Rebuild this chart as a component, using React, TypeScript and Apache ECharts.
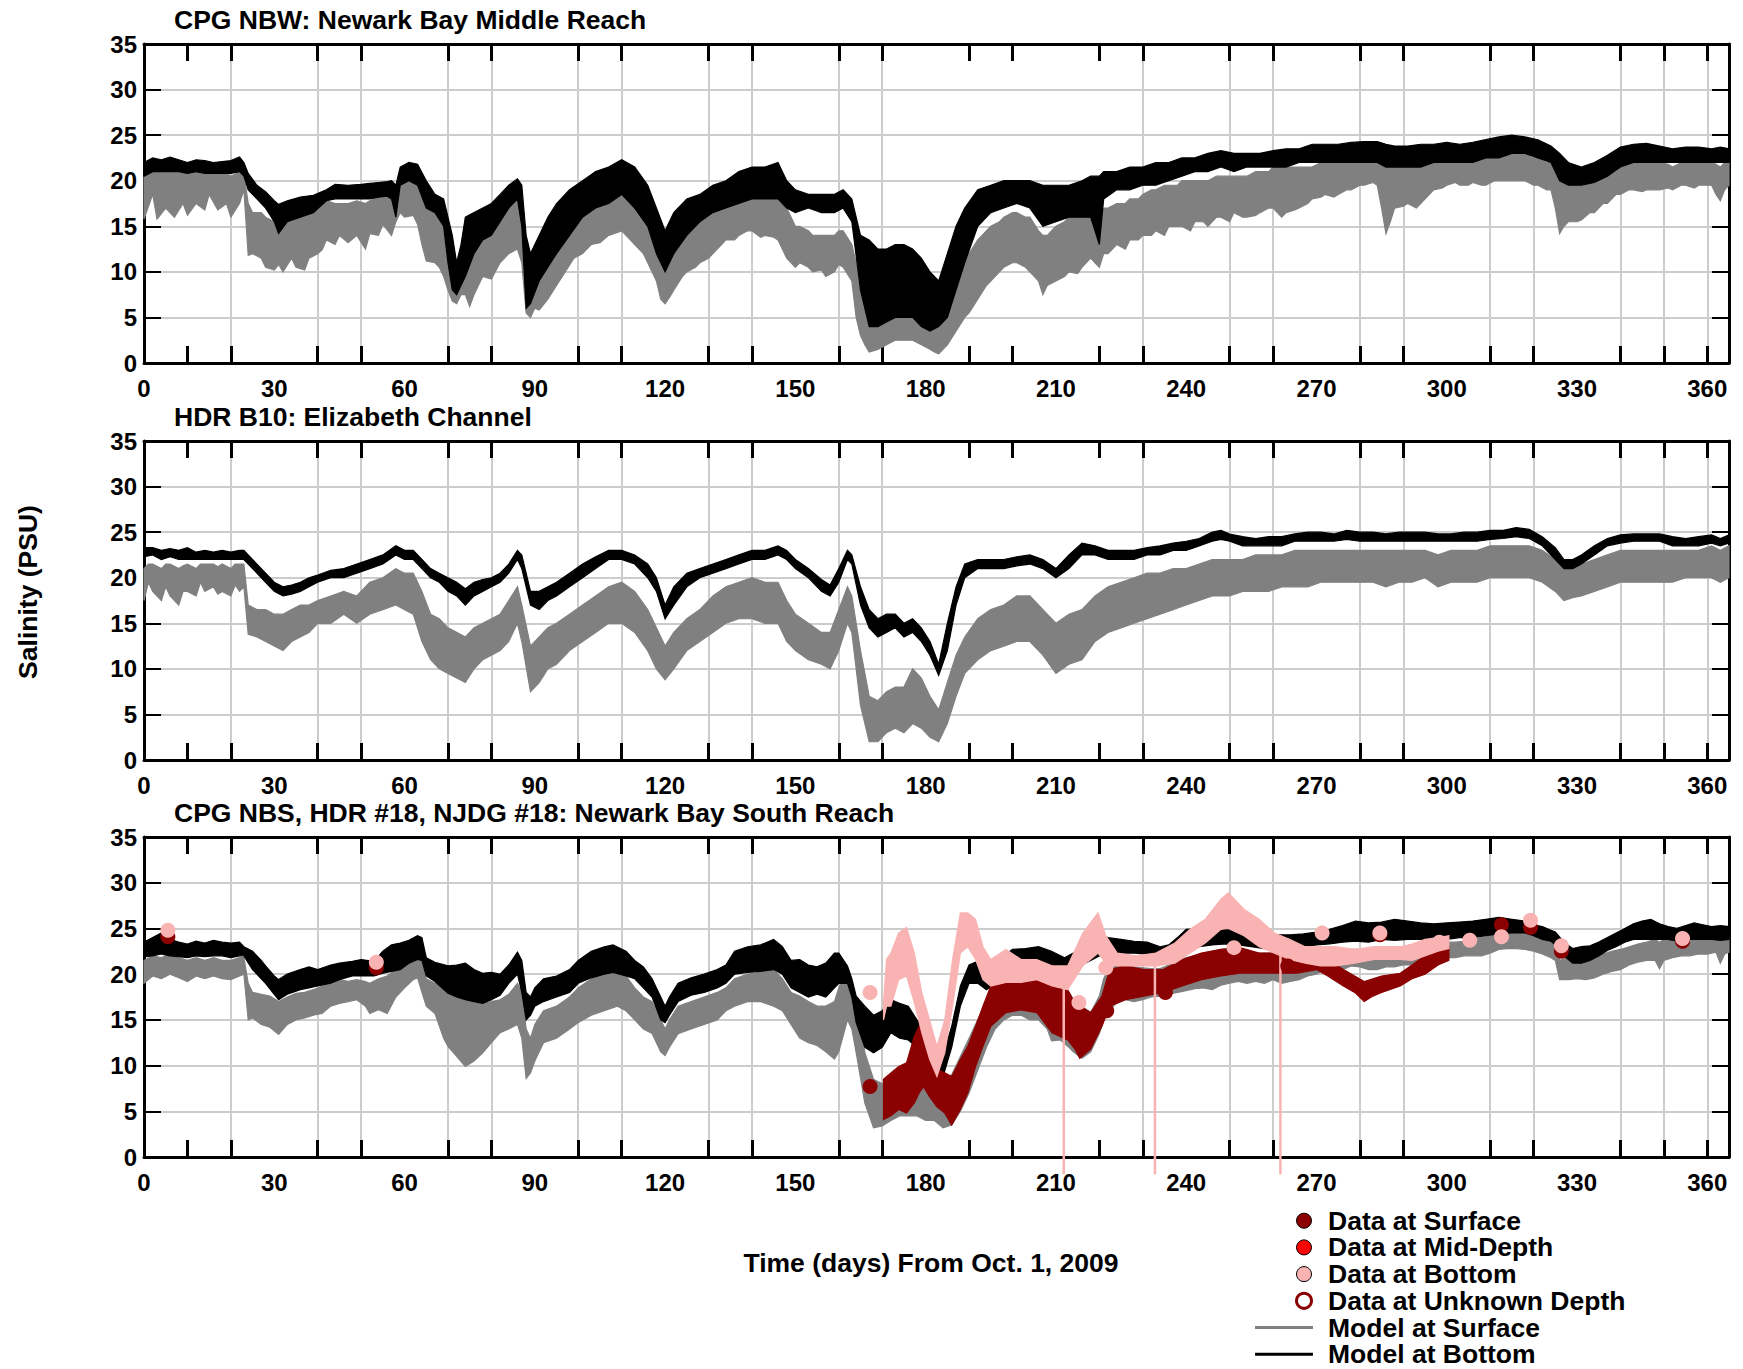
import React, { useEffect, useRef } from 'react';
import * as echarts from 'echarts';

const FONT = "'Liberation Sans', Arial, Helvetica, sans-serif";
const W = 1743;
const H = 1369;

const GRAY = '#808080';
const BLACK = '#000000';
const DARKRED = '#8b0000';
const RED = '#ff0000';
const PINK = '#f9b3b3';
const GRID_GRAY = '#cccccc';
const CLEAR = 'rgba(0,0,0,0)';

// tick positions / labels
const xTickDays = [10, 20, 40, 50, 70, 80, 100, 110, 130, 140, 160, 170, 190, 200, 220, 230, 250, 260, 280, 290, 310, 320, 340, 350, 360];
const yTickValues = [0, 5, 10, 15, 20, 25, 30, 35];

const panelTitles = [
  'CPG NBW: Newark Bay Middle Reach',
  'HDR B10: Elizabeth Channel',
  'CPG NBS, HDR #18, NJDG #18: Newark Bay South Reach',
];

// ---------- Panel 1: CPG NBW  [day, low, high] ----------
const nbwSurface = [
  [0,15.8,20.5],[2,18.5,21.5],[3,15.8,21],[5,17,21.5],[7,16,21.5],[9,17.5,21],[10,16.2,20.8],[12,17.5,21],[14,16.8,21],[15,18.5,21.2],[17,16.8,20.8],[19,17.5,20.8],[20,16,20.5],[22,17.5,21],[23,19,20.8],
  [24,11.8,17.5],[25,12,16.5],[27,11.5,16.5],[28,10.5,16],[30,10.2,15.5],[31,10.8,15],[32,10,15.5],[34,11.5,16],[35,10.5,16],[37,10.2,16.5],[38,11.5,16.5],[40,12,16.8],[41,12.4,17.5],[42,13.5,17.8],
  [44,13,17.5],[45,14,17.5],[47,13.2,17.5],[49,14,17.8],[51,12.5,17.5],[52,14.2,17.8],[54,14,18.2],[55,15.2,18.5],[57,14,18.5],[58,15.5,17.5],[59,16.5,20.2],[60,16,20.5],[62,16.2,20.5],[63,15.2,20],
  [64,13,19],[65,11.2,17.5],[67,11,16.5],[68,10.5,16],[69,9.5,15],[70,8,13.5],[71,6.8,12],[72,6.5,10.5],[73,7.5,12.5],[74,7.5,14],[75,6.2,14.5],[76,7.5,15],[77,8.5,15.5],[78,9.5,16],[80,9.2,16.5],
  [82,11,17],[84,12,17.5],[86,12.5,18],[87,11,16.5],[88,5.5,12],[89,5,10],[90,6,11.5],[91,5.8,12],[93,7,13],[95,8.5,15],[97,10,16],[99,11.5,17],[101,12,18],[103,13,18.5],[105,13.2,19],[107,14,19.5],
  [110,14.5,20],[112,13.5,19.5],[113,13,19],[115,12,18],[116,11,17.5],[118,9,15],[119,7,13],[120,6.5,12],[121,7.2,13],[122,8,14],[124,9.5,15],[125,10,15.5],[127,10.5,16],[128,11,16.5],[130,11.5,16.8],
  [131,12,17],[133,13,17.5],[134,13.5,18],[136,13.5,18.5],[137,14,19],[139,14.5,19.5],[140,14.5,19.5],[142,13.8,19.5],[143,14,19.5],[145,13.8,20],[146,13.5,19.5],[147,12.5,18],[148,11.5,17],[150,10.5,15],
  [151,11,15],[153,10.5,14.5],[154,10,14],[156,10.2,14],[157,9.5,14],[159,10,14],[160,10.8,14.5],[161,10.5,14.5],[163,9,13],[164,5,11],[165,3,9],[166,2,7],[167,1.2,6],[169,1.5,5.5],[171,2,6.5],
  [173,2.5,7],[175,2.5,7.5],[177,2.5,7.5],[179,2,7],[181,1.5,5],[182,1.2,4.5],[183,1,4.5],[184,1.5,5],[185,2,6],[187,3.5,8.5],[189,5,11],[190,5.5,12],[192,7,13.5],[194,8.5,14.5],[195,9,15],
  [197,10,15.5],[198,10.5,16],[200,11,16.5],[201,11,16.5],[203,10.5,16],[204,10,16],[206,9,14.5],[207,7.5,14],[208,8.5,14],[210,9,15],[212,9.5,15.5],[213,10,16],[215,9.8,16],[216,10.5,16.5],
  [218,11.5,17],[219,11,16.5],[220,10.5,16.5],[221,12,17],[222,12,17],[224,13,17.5],[226,12.5,17.5],[227,13.5,18],[229,13.5,18],[230,14,18.5],[232,14,19],[233,14.5,19],[235,14,19.5],[236,15,19.5],
  [238,15,19.5],[239,15,20],[241,14.5,20],[242,15.5,20],[244,15.5,20],[245,15,20],[247,16,20.5],[248,16,20.5],[250,15.5,20.5],[251,16.5,20.5],[253,16,20.5],[254,16,20.5],[256,16.2,21],[257,16.5,21],
  [259,17,21],[260,17,21.5],[262,16,21.5],[263,16.5,21.5],[265,16.8,21.5],[266,17,21.5],[268,17.5,21.5],[269,18,21.5],[271,18.2,22],[272,18.5,22],[274,18.2,22],[275,18.5,22],[277,19,22],[278,19,22],
  [280,19.5,22.5],[281,19.5,22.5],[283,19.8,22.5],[284,19.5,22.5],[285,17,22],[286,14.2,21.5],[287,15.5,21.5],[288,17,21.5],[290,17.2,21.5],[291,17.5,21.5],[293,17,21.5],[294,17.5,22],[296,18.5,22],
  [297,19,22],[299,19.2,22.5],[300,19.5,22.5],[302,19.8,22.5],[303,19.5,22.5],[305,19.5,22.5],[306,19.8,22.5],[308,19.5,22.5],[309,19.5,22.5],[311,20,23],[312,20,23],[314,20,23],[315,20,23],[317,20,23],
  [318,20,23],[320,19.5,22.5],[321,19.5,22.5],[323,19,22],[324,19,22],[325,17,21],[326,14.2,20.5],[327,15,20],[328,15.5,19.5],[330,15.5,19.5],[331,15.7,19.5],[333,16.5,20],[334,16.5,20],[336,17.5,20.5],
  [337,17.5,20.5],[339,18.5,21],[340,18.5,21.5],[342,19,22],[343,19,22],[345,18.8,22],[346,19,22],[348,19,22],[349,19,22],[351,19.2,21.8],[352,19,21.5],[354,19.5,22],[355,19.5,22],[357,19.2,22],
  [358,19.5,22],[360,19.5,22],[361,19.5,22],[362,18.5,21.8],[363,17.8,21.5],[364,19,22],[365,19.5,22],
];

const nbwBottom = [
  [0,20.5,22],[2,21,22.5],[4,21,22.3],[6,21,22.6],[8,21,22.3],[10,20.8,22],[12,21,22.3],[14,20.8,22.2],[16,20.8,22],[18,20.8,22.1],[20,20.8,22.2],[22,21,22.6],[23,20.5,22],[24,19,20.8],[26,18,19.5],
  [28,17,18.8],[30,15.5,17.8],[31,14.2,17.4],[33,15.5,17.8],[36,16,18.2],[39,16.5,18.4],[42,17.8,19],[44,18,19.6],[47,18,19.5],[50,18,19.6],[52,18,19.7],[54,18.2,19.8],[56,18.3,19.9],[57,18,20],
  [58,16,19.5],[59,19.5,21.5],[61,20,22],[63,19.5,21.8],[65,17,20],[67,16.5,18.5],[69,15,18],[70,11,16],[71,8,14],[72,7.5,11],[73,8.5,13],[74,9.5,16],[76,12,16.5],[78,13.5,17],[80,14,17.5],
  [82,15.5,18.5],[84,17,19.5],[86,18,20.2],[87,15,19.5],[88,6,14],[89,6.5,12],[91,9,14],[93,10.5,16],[95,12,17.5],[98,14,19],[101,16,20],[104,17,21],[107,17.5,21.5],[110,18.5,22.3],[113,17,21.5],
  [116,15,19.5],[118,12,17],[120,10,14.5],[122,12,16.5],[125,14,18],[128,15.5,18.5],[131,16.5,19.5],[134,17,20],[137,17.5,21],[140,18,21.5],[143,18,21.5],[146,18,22],[148,17,20],[150,16.5,19],
  [153,17,18.5],[156,16.5,18.5],[159,16.5,18.5],[161,17,19],[163,15.5,18],[165,8,14],[167,4,13.5],[169,4,12.5],[171,4.5,12.5],[173,5,13],[175,5,13],[177,5,12.5],[179,4,11.5],[181,3.5,10],
  [183,4,9],[185,5,12],[187,8,15],[189,11,17],[192,15,19],[195,16.5,19.5],[198,17,20],[201,17.5,20],[204,17,20],[207,15,19.5],[210,15.5,19.5],[213,16,19.5],[216,16,20],[218,16,20.5],[220,13,20.5],
  [221,18,21],[224,19,21],[227,19,21.5],[230,19.5,21.5],[233,19.5,22],[236,20,22],[239,20.5,22.5],[242,21,22.5],[245,21,23],[248,21.5,23.3],[251,21,23],[254,21.5,23],[257,21.5,23],[260,21.5,23.3],
  [263,21.5,23.5],[266,22,23.5],[269,22,24],[272,22,24],[275,22,24],[278,22,24.2],[281,22,24.3],[284,22,24.3],[286,21.5,24],[288,21.5,23.8],[291,21.5,23.8],[294,21.5,24],[297,22,24],[300,22,24.2],
  [303,22,24],[306,22,24.2],[309,22.5,24.5],[312,22.5,24.8],[315,23,25],[318,23,24.8],[321,22.5,24.5],[324,22,23.8],[326,20,23],[328,19.5,22],[331,19.5,21.5],[334,19.8,22],[337,20.5,22.8],
  [340,21.5,23.7],[343,22,24],[346,22,24.1],[349,22,23.8],[352,22,23.5],[355,22,23.7],[358,22,23.7],[361,22,23.5],[363,22,23.7],[365,22,23.5],
];

// ---------- Panel 2: HDR B10 ----------
const hdrSurface = [
  [0,17.5,21],[1,19.5,21.5],[2,18.5,21.5],[4,17.5,21],[5,19,21.5],[6,18,21.5],[8,17,21],[9,18.5,21.3],[10,18.5,21.5],[12,18,21],[13,19.5,21.5],[14,18.5,21.5],[16,19,21.5],[17,18.2,21.2],[18,18.5,21.5],
  [20,18,21],[21,19.2,21.5],[22,18.5,21.5],[23,19,21.5],[24,13.8,17],[26,13.5,16.5],[28,13,16.5],[30,12.5,16],[32,12,16],[34,13,16.5],[36,13.5,17],[38,14,17],[40,15,17.5],[43,15,18],[46,16,18.5],
  [49,15,18],[52,16,19.5],[55,16.5,20],[58,17,21],[60,16.5,20.5],[62,16,20.5],[64,13,18.5],[66,11,16],[68,10,15.5],[70,9.5,14.5],[72,9,14],[74,8.5,13.5],[76,10,14.5],[78,11,15],[80,11.5,15.5],
  [82,12,16],[84,13,17.5],[86,15,19],[87,13,17],[89,7.5,12.5],[91,8.5,13.5],[93,10,14.5],[95,10.5,15],[98,12,16],[101,13,17],[104,14,18],[107,15,19],[110,15,19.5],[113,14,18.5],[116,12,16.5],
  [118,10,14.5],[120,8.8,12.5],[122,10,14],[125,12,15.5],[128,13,16.5],[131,14,18],[134,15,19],[137,15.5,19.5],[140,15.5,20],[143,15,19.5],[146,15,19.5],[148,13,17.5],[150,12,16],[153,11,15],
  [156,10.5,14],[158,10,14],[160,12,16.5],[162,15,19],[163,14,18],[165,6,12],[167,2,7],[169,2,6.5],[171,3,7.5],[173,3.5,8],[175,3,8],[177,4,10],[179,3.5,9],[181,2.5,7],[183,2,5.5],[185,4,8.5],
  [187,7,11.5],[189,9.5,13.5],[192,11,15.5],[195,12,16.5],[198,12.5,17],[201,13,18],[204,13,18],[207,11.5,16.5],[210,9.5,15],[213,10.5,16],[216,11,16.5],[219,13,18],[222,14,19],[225,14.5,19.5],
  [228,15,20],[231,15.5,20.5],[234,16,20.5],[237,16.5,21],[240,17,21],[243,17.5,21.5],[246,18,22],[248,18,22],[250,18,22],[253,18.5,22],[256,18.5,22.5],[259,18.5,22.5],[262,19,22.5],[265,19,23],
  [268,19,23],[271,19.5,23],[274,19.5,23],[277,19.5,23],[280,19.5,23],[283,19.5,23],[286,19,23],[289,19.5,23],[292,19.5,23],[295,20,23],[298,19,22.5],[301,19.5,23],[304,19.5,23],[307,19.5,23],
  [310,20,23.5],[313,20,23.5],[316,20,23.5],[319,20,23.5],[322,19.5,23],[325,18.5,22],[327,17.5,21.5],[329,17.8,21.5],[331,18,21.5],[334,18.5,22],[337,19,22.5],[340,19.5,23],[343,19.5,23],
  [346,19.5,23],[349,19.5,23],[352,19.5,23],[355,20,23],[358,20,23],[361,20,23.5],[363,19.5,23],[365,20,23.5],
];

const hdrBottom = [
  [0,22.3,23.3],[2,22.5,23.3],[4,22,23],[6,22.3,23.2],[8,22,23],[10,22,23.3],[12,22,22.8],[14,22,23],[16,22,22.8],[18,22,23],[20,22,22.8],[22,22,23],[23,22,23],[24,21.5,22.5],[26,20.5,21.5],
  [28,19.5,20.5],[30,18.5,19.5],[32,18,19],[34,18.2,19.2],[36,18.5,19.5],[38,19,20],[40,19.5,20.3],[43,20,20.8],[46,20,21],[49,20.5,21.5],[52,21,22],[55,21.5,22.5],[58,22.5,23.5],[60,22,23],
  [62,22,23],[64,21,22],[66,20,21],[68,19.5,20.5],[70,18.5,20],[72,18,19.5],[74,17,18.8],[76,18,19.5],[78,18.5,19.8],[80,19,20],[82,19.5,20.5],[84,20.5,21.5],[86,22,23],[87,21,22.5],[89,17,18.5],
  [91,16.5,18.5],[93,17.5,19],[95,18,19.5],[98,19,20.5],[101,20,21.5],[104,21,22.3],[107,22,23],[110,22,23],[113,21.5,22.5],[116,20,21.5],[118,18.5,20],[120,15.5,17],[122,17,19],[125,19,20.5],
  [128,20,21],[131,20.5,21.5],[134,21,22],[137,21.5,22.5],[140,22,23],[143,22,23],[146,22.5,23.5],[148,22,23],[150,21,22],[153,20,21],[156,18.5,19.8],[158,18,19.2],[160,19.5,21],[162,22,23],
  [163,21.5,22.5],[165,17,19],[167,14.5,16.5],[169,13.5,15.5],[171,14,16],[173,14.5,16],[175,13.5,15],[177,14,15.5],[179,13,14.5],[181,11.5,13],[183,9.3,10.5],[185,12,15],[187,17,19],[189,20,21.5],
  [192,21,22],[195,21,22],[198,21,22],[201,21.3,22.3],[204,21.5,22.5],[207,21,22],[210,20,21],[213,21,22.5],[216,22.5,23.8],[219,22.5,23.5],[222,22,23],[225,22,23],[228,22,23],[231,22.5,23.3],
  [234,22.5,23.5],[237,23,23.8],[240,23,24],[243,23.5,24.3],[246,24,25],[248,24.2,25.2],[250,24,24.8],[253,23.5,24.5],[256,23.5,24.3],[259,23.5,24.5],[262,23.5,24.5],[265,24,24.8],[268,24,25],
  [271,24,25],[274,24,24.8],[277,24.2,25.2],[280,24,25],[283,24,25],[286,24,24.8],[289,24,25],[292,24,25],[295,24,25],[298,24,24.8],[301,24,24.8],[304,24,25],[307,24,25],[310,24.2,25.2],
  [313,24.3,25.2],[316,24.5,25.5],[319,24.3,25.3],[322,23.5,24.5],[325,22,23.3],[327,21,22],[329,21,22],[331,21.5,22.5],[334,22.5,23.5],[337,23.5,24.3],[340,23.8,24.7],[343,24,24.8],[346,24,24.8],
  [349,24,24.8],[352,23.5,24.5],[355,23.5,24.3],[358,23.5,24.5],[361,23.8,24.7],[363,23.5,24.3],[365,23.8,24.7],
];

// ---------- Panel 3: CPG NBS ----------
const nbsSurface = [
  [0,19,21.5],[2,19.8,22],[4,19.5,21.8],[6,20,22.3],[8,19.6,21.8],[10,19.2,21.5],[12,19.8,21.8],[14,19.5,21.5],[16,19.8,21.8],[18,19.5,21.5],[20,19.4,21.5],[22,19.8,21.8],[23,20,21.8],[24,15,19],
  [25,15.2,18],[27,14.5,17.8],[29,14.2,17.6],[31,13.4,17],[33,14.5,17.5],[35,15,17.9],[37,15.2,18],[39,15.5,18.3],[41,15.7,18.7],[43,16.5,19],[45,16.8,19.4],[47,17,19.2],[49,17.2,19.4],[51,16.5,19.2],
  [52,15.7,19],[54,16.1,19.5],[56,15.7,19.8],[58,17.5,20.5],[60,18.5,21],[62,19.4,21.6],[63,19.6,21.8],[64,18,21.5],[65,16.5,19.5],[67,15.7,19],[69,13,18.5],[70,12.1,17.9],[72,11,17.5],[74,9.9,17.6],
  [76,10.5,17],[78,11.4,16.8],[80,12.5,17],[82,13.6,17.2],[84,14,17.8],[86,14.5,19],[87,13,18],[88,8.6,14],[89,9.2,13],[90,10.5,14.5],[92,12.5,16],[95,13,16.5],[98,14,17.5],[100,14.7,18.5],
  [103,15.5,19.5],[106,16,20],[109,16.5,20.2],[111,16,19.8],[113,15,18.5],[115,14,17.5],[117,13.5,17],[119,11.5,15],[120,11.1,14],[121,12,15],[123,13.5,16.5],[126,14,17],[129,14.5,17.5],[132,15,18],
  [134,16,18.5],[136,16.5,19.5],[139,17,20],[142,17,20.2],[145,16.5,20.5],[147,16,19.5],[149,14.5,18],[151,13,17.6],[153,12.5,17],[155,12.2,16.5],[157,11.5,16.5],[159,10.7,17],[160,11.5,18.5],
  [162,15,20.5],[163,14,19],[164,11.4,17.2],[166,5.9,11.4],[168,3.2,8.5],[170,3.4,8],[172,4,9],[174,4.5,9.5],[176,4.5,10],[178,4.5,10.5],[180,4,11],[182,4,9.5],[184,3.2,8.5],[186,3.5,9],[188,5,11],
  [190,7,13],[192,9.5,15],[194,12,17],[196,14,18.5],[198,15,19],[200,15.5,19.5],[202,15.5,19.8],[204,15,19.5],[206,15,19.4],[208,14,19],[209,12.7,18.7],[211,12.8,18.3],[213,12,18],[214,11.5,17],
  [216,10.8,16.5],[218,11.5,15.8],[220,13.5,17.6],[221,15,19.5],[222,16,20.5],[224,16.8,20.9],[226,17.2,21],[228,17,20.8],[230,17.2,20.7],[232,17.5,20.6],[234,17.6,20.6],[236,17.8,21],[238,18,21.4],
  [240,18.2,21.8],[242,18.4,22],[244,18.5,22.3],[246,18.3,22.5],[248,18.8,22.7],[250,19,22.8],[252,19.2,22.9],[254,19,22.5],[256,19.2,22.3],[258,19,22.3],[260,19.4,22.3],[262,19,22.2],[264,19.2,22],
  [266,19.4,21.8],[268,19.8,22],[270,20,22.3],[272,20.5,22.5],[274,20.5,22.5],[276,20.5,22.6],[278,20.9,22.7],[280,20.8,22.7],[282,20.5,22.5],[284,20.5,22.5],[286,20.8,22.6],[288,20.8,22.6],
  [290,21,22.8],[292,21,22.8],[294,21.3,23],[296,21.5,23.2],[298,21.5,23.3],[300,21.8,23.5],[302,21.8,23.5],[304,22,23.6],[306,22,23.8],[308,22,24],[310,22.3,24.2],[312,22.7,24.5],[314,22.8,24.8],
  [316,22.8,24.8],[318,22.7,24.5],[320,22.5,24.2],[322,22.2,24],[324,21.8,23.8],[325,21.5,23.5],[326,19.4,21.5],[328,19.4,21.8],[330,19.5,21.8],[332,19.4,21.5],[334,19.6,21.8],[336,20,22.2],
  [338,20.3,22.5],[340,20.5,22.7],[342,21,23],[344,21.3,23.3],[346,21.5,23.5],[348,21.5,23.8],[349,20.6,23.5],[350,21.5,23.8],[352,21.8,23.8],[354,22,23.8],[356,22,23.8],[358,22.2,23.8],
  [360,22.2,24],[362,22.4,24],[363,21.2,23.8],[364,22.2,23.8],[365,22.4,24],
];

const nbsBottom = [
  [0,21.9,23.5],[2,22,24],[4,22.2,24.5],[6,22,23.8],[8,21.9,23.5],[10,21.8,23.3],[12,22,23.6],[14,21.9,23.4],[16,22,23.7],[18,22,23.5],[20,21.8,23.4],[22,22,23.5],[23,22,23],[25,20.5,22.5],
  [27,19.5,21.5],[28,19,20.9],[30,17.8,19.8],[31,17.2,19.4],[33,17.8,20],[36,18.3,20.5],[38,18.5,20.8],[40,18.7,20.5],[43,19,21],[45,19.4,21.2],[48,19.8,21.4],[50,19.8,21.6],[53,19.8,21.4],
  [55,20.1,22.5],[57,20.3,23.2],[59,20.5,23.4],[61,21.2,23.7],[63,21.6,24.2],[64,21.5,24],[65,19.8,21.8],[67,19.2,21.3],[70,17.9,20.9],[72,17.5,21],[74,17.2,21.2],[76,17,20.5],[78,16.8,20.1],
  [80,17.2,20.2],[82,17.7,20],[84,19,21],[86,20,22.4],[87,18,21.5],[88,15,18],[89,15.5,17.5],[90,16.5,18.5],[92,17,19.5],[95,17.5,19.8],[98,18,20.5],[100,19,21.5],[103,19.6,22.5],[106,20,23],
  [108,20.2,23.2],[111,19.8,22.5],[113,19.5,21.5],[115,18.5,20.8],[117,17.5,19.5],[119,15,17.5],[120,14.7,16.5],[121,15.5,17.5],[123,17,19],[126,17.7,19.6],[129,18,20],[132,18.5,20.5],[134,19,21],
  [136,20,22.5],[139,20.2,23],[142,20.3,23.2],[145,20.5,23.8],[147,20,23],[149,18.5,21.5],[151,18,21.6],[153,17.5,21],[155,17.8,20.8],[157,17.5,21.2],[159,18.5,22.3],[160,19,22.3],[162,19,20.9],
  [163,17.5,19.5],[164,14.7,17.6],[166,12,16.5],[168,11.4,15.5],[170,12,16],[172,13.6,17.2],[174,13,16.8],[176,12.8,16.5],[178,12,15],[180,11,14],[182,9.5,12.5],[184,8.8,11],[186,12,14.3],
  [188,16.5,18.7],[190,19,21],[192,19,21.4],[194,18.3,20],[196,19,21.5],[198,19.8,22],[200,20.2,22.7],[203,20.5,22.8],[206,21,23],[209,20.8,22.5],[212,20.5,21.8],[214,20.5,22.3],[216,21,23],
  [218,21.5,23.8],[220,22,24.2],[222,22.5,24],[225,22.3,23.8],[228,22.3,23.6],[231,22.2,23.5],[234,22,23],[236,22,23.2],[238,22.5,24],[240,23,24.9],[243,23,25],[246,23.2,25.3],[249,23.3,25.3],
  [252,23.2,25],[255,23,24.5],[258,22.8,24.3],[261,22.8,24.3],[264,23,24.3],[267,23,24.4],[270,23.2,24.6],[273,23.3,24.9],[276,23.5,25.3],[279,23.6,25.8],[282,23.5,25.6],[285,23.8,25.7],
  [288,23.7,26],[291,23.8,25.8],[294,23.8,25.6],[297,23.8,25.5],[300,23.8,25.6],[303,24,25.7],[306,24,25.8],[309,24.2,26],[312,24.4,26.2],[315,24.5,26],[318,24.5,25.8],[320,24.2,25.4],
  [322,23.8,25.2],[324,23.6,24.8],[325,23.2,24.6],[327,22,23.5],[329,21.2,22.8],[331,21.2,23],[333,21.5,23.1],[335,22,23.5],[337,22.6,24],[339,23,24.5],[341,23.5,25],[343,23.8,25.5],[345,23.8,25.8],
  [347,23.8,26],[349,23.8,25.5],[351,23.8,25.2],[353,23.6,25],[355,23.8,25.3],[357,23.8,25.6],[359,23.8,25.4],[361,23.8,25.2],[363,23.7,25.3],[365,23.8,25.2],
];

// continuous observed records (surface = dark red, bottom = pink)
const nbsSurfaceObs = [
  [170.3,4.1,8.5],[172,4.5,9.2],[173.8,5.2,9.9],[175.6,4.8,10.3],[177.4,5.9,13.2],[178.5,7,14.3],[179.5,7.7,13],[180.9,6.6,11.4],[182.6,5.5,9.6],[184.4,4.8,9.2],[186,3.5,8.8],[188,5.2,10.7],
  [189.7,7,12.1],[191.5,9.9,14.3],[193.2,12.1,16.5],[195,14.3,18.7],[198.5,15.8,19.4],[202,16.1,19.8],[205.6,15.8,19.4],[209.1,13.6,18.7],[212.7,12.8,18.3],[214.4,11.8,16.9],[215.5,10.8,16.5],
  [218,11.8,15.8],[220.6,14.3,17.6],[222.4,16.5,20.5],[226,17.2,20.9],[230.3,17.6,20.5],[234.7,18,20.5],[239.1,18.7,21.6],[243.5,19.4,22.3],[248,19.8,22.7],[252.4,20.1,22.9],[256.8,20.1,22.3],
  [261.2,20.1,22.3],[265.6,20.1,21.6],[270,20.5,21.8],[272.6,19.8,21.6],[276.2,18.7,20.5],[278.8,18,19.8],[281,17,19.2],[283,17.6,19.5],[285,18,19.8],[289.3,18.7,20.1],[292,19.5,21],[295,20,22],
  [298,21,22.5],[300.5,21.5,23],
];

const nbsBottomObs = [
  [170.3,15,17],[171,16.5,21.6],[172,16.5,22.3],[173.8,19.4,24.5],[175.6,19.8,25.1],[177.4,16.9,22.3],[179.1,13.6,18],[180.9,10.7,15],[182.6,8.8,12.1],[184.4,11.4,15],[186.2,16.5,21.6],
  [188,22.3,26.7],[189.7,23,26.7],[191.5,21.6,26],[193.2,19.4,23],[195,18.7,21.6],[198.5,19.1,22.7],[202,19.1,21.6],[205.6,19.4,21.6],[209.1,18.7,20.9],[212.7,18.3,20.9],[216.2,20.9,24.5],
  [219.7,22.3,26.7],[221.5,21.2,24.2],[224.1,20.9,22.3],[228.5,20.9,22],[233,20.9,22.3],[237.4,21.2,23.4],[240.9,22.3,24.9],[244.4,23.4,26],[248,24.9,28.2],[249.7,25,28.9],[253.3,24.2,27.1],
  [256.8,23,26],[260.3,22.3,24.5],[263.8,21.6,23.8],[267.4,21.2,23],[270.9,20.9,23],[274.4,20.9,23],[278.8,21.2,22.7],[283.3,21.6,23],[289.3,21.6,23],[292,21.5,23.3],[295,22,23.8],[298,22.5,24],
  [300.5,22.8,24.2],
];

// drop-outs in the bottom record [day, from, to]
const nbsBottomDropouts = [[211.8, 19, -1.9], [232.8, 21, -1.9], [261.7, 22, -1.9]];

// discrete samples [day, salinity]
const surfaceSamples = [[5.5,24.1],[53.5,20.7],[167.2,7.7],[221.7,16],[235.2,18],[263.4,20.9],[284.6,24.3],[312.6,25.4],[319.3,25.1],[326.4,22.5],[354.3,23.6]];
const bottomSamples = [[5.5,24.8],[53.5,21.3],[167.2,18],[215.3,16.9],[221.5,20.7],[251,22.9],[271.3,24.5],[284.6,24.5],[298.3,23.5],[305.3,23.7],[312.6,24.1],[319.3,25.9],[326.4,23.1],[354.3,23.9]];

const legendItems = [
  { label: 'Data at Surface', kind: 'dot', fill: DARKRED, stroke: '#000', lw: 1 },
  { label: 'Data at Mid-Depth', kind: 'dot', fill: RED, stroke: '#000', lw: 1 },
  { label: 'Data at Bottom', kind: 'dot', fill: PINK, stroke: '#000', lw: 1 },
  { label: 'Data at Unknown Depth', kind: 'dot', fill: '#ffffff', stroke: DARKRED, lw: 3 },
  { label: 'Model at Surface', kind: 'line', fill: GRAY, stroke: GRAY, lw: 3 },
  { label: 'Model at Bottom', kind: 'line', fill: BLACK, stroke: BLACK, lw: 3 },
];

// ---------- layout ----------
const GRIDS = [
  { left: 144, top: 44, width: 1585, height: 319 },
  { left: 144, top: 441, width: 1585, height: 319 },
  { left: 144, top: 837, width: 1585, height: 320 },
];

const xSplitColors = [CLEAR, ...Array(11).fill(GRID_GRAY), CLEAR, CLEAR];
const ySplitColors = [CLEAR, ...Array(yTickValues.length - 2).fill(GRID_GRAY), CLEAR];

function makeXAxes(gi: number) {
  const common: any = {
    type: 'value', min: 0, max: 365, interval: 30, gridIndex: gi,
    axisLine: { show: true, onZero: false, lineStyle: { color: BLACK, width: 3 } },
    axisTick: { show: true, inside: true, length: 17, customValues: xTickDays, lineStyle: { color: BLACK, width: 3 } },
  };
  return [
    {
      ...common, position: 'bottom',
      axisLabel: {
        show: true, margin: 13, fontSize: 24, fontWeight: 'bold', fontFamily: FONT, color: BLACK,
        formatter: (v: number) => (v % 30 === 0 ? String(v) : ''),
      },
      splitLine: { show: true, lineStyle: { color: xSplitColors, width: 2 } },
    },
    { ...common, position: 'top', axisLabel: { show: false }, splitLine: { show: false } },
  ];
}

function makeYAxes(gi: number) {
  const common: any = {
    type: 'value', min: 0, max: 35, interval: 5, gridIndex: gi,
    axisLine: { show: true, onZero: false, lineStyle: { color: BLACK, width: 3 } },
    axisTick: { show: true, inside: true, length: 17, lineStyle: { color: BLACK, width: 2 } },
  };
  return [
    {
      ...common, position: 'left',
      axisLabel: { show: true, margin: 7, fontSize: 24, fontWeight: 'bold', fontFamily: FONT, color: BLACK, verticalAlign: 'middle', padding: [0, 0, 12, 0] },
      splitLine: { show: true, lineStyle: { color: ySplitColors, width: 2 } },
    },
    { ...common, position: 'right', axisLabel: { show: false }, splitLine: { show: false } },
  ];
}

function band(name: string, rows: number[][], color: string, gi: number, z: number) {
  return {
    type: 'custom', name, xAxisIndex: gi * 2, yAxisIndex: gi * 2, z, silent: true,
    data: rows,
    encode: { x: 0, y: [1, 2] },
    renderItem: (params: any, api: any) => {
      if (params.dataIndex !== 0) return null;
      const pts: number[][] = [];
      for (let i = 0; i < rows.length; i++) pts.push(api.coord([rows[i][0], rows[i][2]]));
      for (let i = rows.length - 1; i >= 0; i--) pts.push(api.coord([rows[i][0], rows[i][1]]));
      return { type: 'polygon', shape: { points: pts }, style: { fill: color, stroke: color, lineWidth: 1.2, lineJoin: 'miter' } };
    },
  };
}

function textEl(text: string, x: number, y: number, size: number, align = 'left', rotation = 0) {
  return {
    type: 'text', x, y, rotation, silent: true,
    style: {
      text, fill: BLACK, fontSize: size, fontWeight: 'bold', fontFamily: FONT,
      font: `bold ${size}px ${FONT}`,
      align, verticalAlign: 'middle', textAlign: align, textVerticalAlign: 'middle',
    },
  };
}

function buildOption() {
  const xAxis = [...makeXAxes(0), ...makeXAxes(1), ...makeXAxes(2)];
  const yAxis = [...makeYAxes(0), ...makeYAxes(1), ...makeYAxes(2)];

  const series: any[] = [
    band('NBW Model at Surface', nbwSurface, GRAY, 0, 2),
    band('NBW Model at Bottom', nbwBottom, BLACK, 0, 3),
    band('B10 Model at Surface', hdrSurface, GRAY, 1, 2),
    band('B10 Model at Bottom', hdrBottom, BLACK, 1, 3),
    band('NBS Model at Surface', nbsSurface, GRAY, 2, 2),
    band('NBS Model at Bottom', nbsBottom, BLACK, 2, 3),
    band('NBS Data at Surface', nbsSurfaceObs, DARKRED, 2, 4),
    band('NBS Data at Bottom', nbsBottomObs, PINK, 2, 5),
    {
      type: 'custom', name: 'NBS bottom drop-outs', xAxisIndex: 4, yAxisIndex: 4, z: 5, silent: true, clip: false,
      data: nbsBottomDropouts,
      encode: { x: 0, y: [1, 2] },
      renderItem: (params: any, api: any) => {
        const a = api.coord([api.value(0), api.value(1)]);
        const b = api.coord([api.value(0), api.value(2)]);
        return { type: 'line', shape: { x1: a[0], y1: a[1], x2: b[0], y2: b[1] }, style: { stroke: PINK, lineWidth: 2.5 } };
      },
    },
    {
      type: 'scatter', name: 'Data at Surface', xAxisIndex: 4, yAxisIndex: 4, z: 6, silent: true,
      symbol: 'circle', symbolSize: 15, data: surfaceSamples, itemStyle: { color: DARKRED, opacity: 1 },
    },
    {
      type: 'scatter', name: 'Data at Bottom', xAxisIndex: 4, yAxisIndex: 4, z: 7, silent: true,
      symbol: 'circle', symbolSize: 15, data: bottomSamples, itemStyle: { color: PINK, opacity: 1 },
    },
  ];

  const graphics: any[] = [];
  const titleY = [20, 417, 813];
  panelTitles.forEach((t, i) => graphics.push(textEl(t, 174, titleY[i], 26.5)));
  graphics.push(textEl('Time (days) From Oct. 1, 2009', 931, 1263, 26.5, 'center'));
  graphics.push(textEl('Salinity (PSU)', 27.5, 592, 26.5, 'center', Math.PI / 2));

  const legendY0 = 1220.7;
  const legendStep = 26.7;
  legendItems.forEach((it, i) => {
    const y = legendY0 + i * legendStep;
    if (it.kind === 'dot') {
      graphics.push({
        type: 'circle', silent: true, shape: { cx: 1304, cy: y, r: 7.5 },
        style: { fill: it.fill, stroke: it.stroke, lineWidth: it.lw },
      });
    } else {
      graphics.push({
        type: 'line', silent: true, shape: { x1: 1255, y1: y, x2: 1313, y2: y },
        style: { stroke: it.stroke, lineWidth: it.lw },
      });
    }
    graphics.push(textEl(it.label, 1328, y, 26.5));
  });

  return {
    animation: false,
    backgroundColor: '#ffffff',
    grid: GRIDS.map((g) => ({ ...g, containLabel: false })),
    xAxis,
    yAxis,
    series,
    graphic: { elements: graphics },
  };
}

export default function App() {
  const ref = useRef<HTMLDivElement>(null);
  useEffect(() => {
    document.body.style.margin = '0';
    document.body.style.overflow = 'hidden';
    const chart = echarts.init(ref.current as HTMLDivElement, undefined, { renderer: 'svg', width: W, height: H });
    chart.setOption(buildOption() as any);
    return () => chart.dispose();
  }, []);
  return <div ref={ref} style={{ width: W, height: H, background: '#fff' }} />;
}
